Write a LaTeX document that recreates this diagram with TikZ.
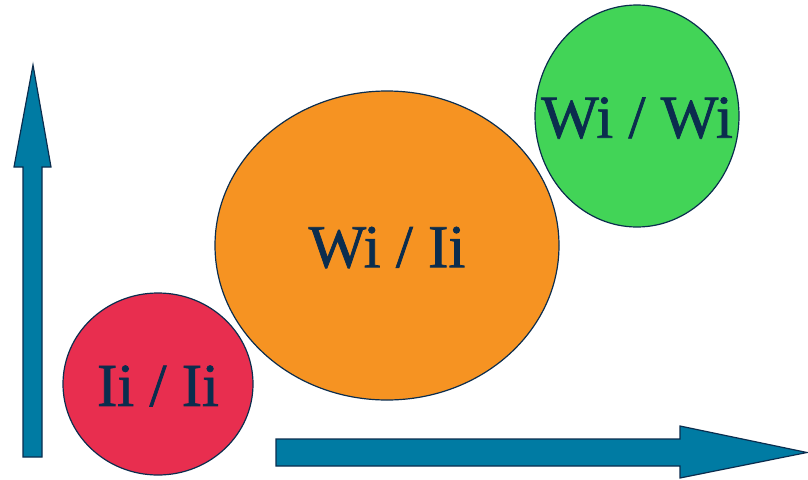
\documentclass[tikz,border=0pt]{standalone}
\usepackage{fontspec}
\setmainfont{Liberation Serif}
\newfontfamily\tagfont[FakeBold=1.2]{Liberation Serif}
\usetikzlibrary{shapes.geometric}
\definecolor{navy}{HTML}{0B2D4E}
\definecolor{axisblue}{HTML}{007BA3}
\definecolor{lowred}{HTML}{E82E4F}
\definecolor{midorange}{HTML}{F69322}
\definecolor{topgreen}{HTML}{42D457}
\begin{document}
\begin{tikzpicture}[x = 1pt, y = -1pt,
		blob/.style = {draw = navy, line width = 1.2pt, ellipse, inner sep = 0pt},
		tag/.style = {text = navy, inner sep = 0pt, yshift = -2pt, font = \tagfont\fontsize{61}{61}\selectfont},
		axis/.style = {draw = navy, line width = 1.2pt, fill = axisblue, line join = miter}]
			\useasboundingbox (0,0) rectangle (808,479);
			\draw[axis] (23,457) -- (23,167) -- (14,167) -- (33,65) -- (51,167) -- (42,167) -- (42,457) -- cycle;
			\draw[axis] (276,439) -- (680,439) -- (680,426) -- (807,452.5) -- (680,478) -- (680,466) -- (276,466) -- cycle;
			\node[blob, fill = lowred, minimum width = 190pt, minimum height = 182pt] (ii) at (158,384) {};
			\node[tag] at (ii) {Ii / Ii};
			\node[blob, fill = midorange, minimum width = 344pt, minimum height = 309pt] (wiii) at (387,245.5) {};
			\node[tag] at (wiii) {Wi / Ii};
			\node[blob, fill = topgreen, minimum width = 204pt, minimum height = 222pt] (wiwi) at (637,116) {};
			\node[tag] at (wiwi) {Wi / Wi};
		\end{tikzpicture}
\end{document}
